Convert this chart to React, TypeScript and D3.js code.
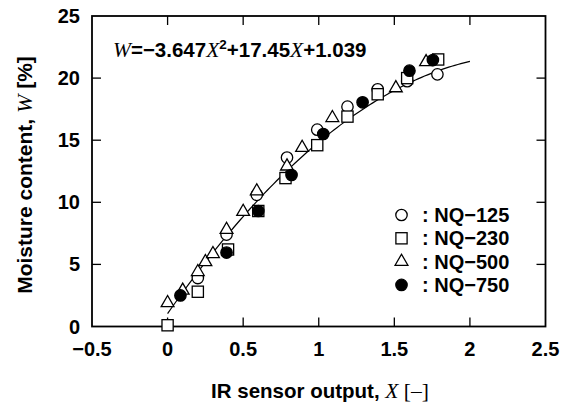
import React from "react";
import * as d3 from "d3";

const W = 561;
const H = 405;

// Data: NQ series [X, W]
const nq125X = [0.2, 0.39, 0.59, 0.79, 0.99, 1.19, 1.39, 1.585, 1.785];
const nq125W = [3.9, 7.4, 10.6, 13.6, 15.85, 17.7, 19.1, 19.75, 20.3];

const nq230X = [0.0, 0.2, 0.4, 0.6, 0.78, 0.99, 1.19, 1.39, 1.585, 1.79];
const nq230W = [0.1, 2.8, 6.2, 9.3, 11.95, 14.6, 16.9, 18.7, 20.0, 21.5];

const nq500X = [0.0, 0.1, 0.2, 0.25, 0.3, 0.39, 0.5, 0.59, 0.79, 0.89, 1.09, 1.51, 1.71];
const nq500W = [1.9, 2.9, 4.4, 5.2, 5.85, 7.8, 9.25, 10.9, 12.9, 14.4, 16.8, 19.2, 21.3];

const nq750X = [0.085, 0.39, 0.6, 0.82, 1.03, 1.29, 1.6, 1.755];
const nq750W = [2.5, 5.95, 9.3, 12.2, 15.5, 18.05, 20.6, 21.45];

// Fit coefficients W = a X^2 + b X + c
const fitCoef = [-3.647, 17.45, 1.039];
const fitRange = [0, 2];

const xTicks = [-0.5, 0, 0.5, 1, 1.5, 2, 2.5];
const yTicks = [0, 5, 10, 15, 20, 25];
const legendLabels = [": NQ\u2212125", ": NQ\u2212230", ": NQ\u2212500", ": NQ\u2212750"];

const SANS = "'Liberation Sans', Arial, Helvetica, sans-serif";
const SERIF = "'Liberation Serif', 'Times New Roman', serif";
const FS = 20;

const left = 92, right = 545.5, top = 16, bottom = 326.5;
const x = d3.scaleLinear().domain([-0.5, 2.5]).range([left, right]);
const y = d3.scaleLinear().domain([0, 25]).range([bottom, top]);

function fmt(v: number) {
  const s = String(v);
  return s.startsWith("-") ? "\u2212" + s.slice(1) : s;
}

type Kind = "circle" | "square" | "triangle" | "dot";

function Marker({ kind, cx, cy }: { kind: Kind; cx: number; cy: number }) {
  const sw = 1.3;
  if (kind === "circle")
    return <circle cx={cx} cy={cy} r={5.7} fill="white" stroke="black" strokeWidth={sw} />;
  if (kind === "dot")
    return <circle cx={cx} cy={cy} r={5.7} fill="black" stroke="black" strokeWidth={sw} />;
  if (kind === "square")
    return <rect x={cx - 5.6} y={cy - 5.6} width={11.2} height={11.2} fill="white" stroke="black" strokeWidth={sw} />;
  const s = 12.8;
  const h = (s * Math.sqrt(3)) / 2;
  const pts = [
    [cx, cy - (2 * h) / 3],
    [cx - s / 2, cy + h / 3],
    [cx + s / 2, cy + h / 3],
  ];
  return <polygon points={pts.map((p) => p.join(",")).join(" ")} fill="white" stroke="black" strokeWidth={sw} />;
}

const italic = { fontFamily: SERIF, fontStyle: "italic" as const, fontWeight: "normal" as const };

export default function App() {
  const series: { kind: Kind; xs: number[]; ws: number[] }[] = [
    { kind: "circle", xs: nq125X, ws: nq125W },
    { kind: "square", xs: nq230X, ws: nq230W },
    { kind: "triangle", xs: nq500X, ws: nq500W },
    { kind: "dot", xs: nq750X, ws: nq750W },
  ];
  const legendKinds: Kind[] = ["circle", "square", "triangle", "dot"];

  const fitXs = d3.range(fitRange[0], fitRange[1] + 1e-9, 0.02);
  const line = d3
    .line<number>()
    .x((d) => x(d))
    .y((d) => y(fitCoef[0] * d * d + fitCoef[1] * d + fitCoef[2]));

  const tickLen = 9;
  const innerX = xTicks.filter((t) => t > -0.5 && t < 2.5);
  const innerY = yTicks.filter((t) => t > 0 && t < 25);

  return (
    <svg width={W} height={H} style={{ position: "absolute", left: 0, top: 0, background: "white" }}>
      <rect x={0} y={0} width={W} height={H} fill="white" />
      {innerX.map((t) => (
        <g key={"xt" + t}>
          <line x1={x(t)} x2={x(t)} y1={bottom} y2={bottom - tickLen} stroke="black" strokeWidth={1.3} />
          <line x1={x(t)} x2={x(t)} y1={top} y2={top + tickLen} stroke="black" strokeWidth={1.3} />
        </g>
      ))}
      {innerY.map((t) => (
        <g key={"yt" + t}>
          <line x1={left} x2={left + tickLen} y1={y(t)} y2={y(t)} stroke="black" strokeWidth={1.3} />
          <line x1={right} x2={right - tickLen} y1={y(t)} y2={y(t)} stroke="black" strokeWidth={1.3} />
        </g>
      ))}
      <rect x={left} y={top} width={right - left} height={bottom - top} fill="none" stroke="black" strokeWidth={1.8} />

      {xTicks.map((t) => (
        <text key={"xl" + t} x={x(t)} y={356} textAnchor="middle" fontFamily={SANS} fontWeight="bold" fontSize={FS}>
          {fmt(t)}
        </text>
      ))}
      {yTicks.map((t) => (
        <text key={"yl" + t} x={80} y={y(t) + 7} textAnchor="end" fontFamily={SANS} fontWeight="bold" fontSize={FS}>
          {fmt(t)}
        </text>
      ))}

      <path d={line(fitXs) || ""} fill="none" stroke="black" strokeWidth={1.2} />

      {series.map((s) =>
        s.xs.map((xv, i) => <Marker key={s.kind + i} kind={s.kind} cx={x(xv)} cy={y(s.ws[i])} />)
      )}

      <text x={113} y={57} fontFamily={SANS} fontWeight="bold" fontSize={20.5}>
        <tspan {...italic} fontSize={21.5}>W</tspan>
        <tspan>{"=\u22123.647"}</tspan>
        <tspan {...italic} fontSize={21.5}>X</tspan>
        <tspan fontSize={13.5} dy={-8}>2</tspan>
        <tspan dy={8}>+17.45</tspan>
        <tspan {...italic} fontSize={21.5}>X</tspan>
        <tspan>+1.039</tspan>
      </text>

      {legendLabels.map((lab, i) => {
        const cy = 215 + i * 23.3;
        return (
          <g key={"lg" + i}>
            <Marker kind={legendKinds[i]} cx={401.5} cy={cy} />
            <text x={422} y={cy + 7} fontFamily={SANS} fontWeight="bold" fontSize={FS}>
              {lab}
            </text>
          </g>
        );
      })}

      <text x={320} y={398} textAnchor="middle" fontFamily={SANS} fontWeight="bold" fontSize={20.5}>
        {"IR sensor output, "}
        <tspan {...italic} fontSize={21.5}>X</tspan>
        <tspan fontFamily={SERIF} fontWeight="normal" fontSize={21.5}>{" [\u2013]"}</tspan>
      </text>
      <text
        transform={`translate(32, 175) rotate(-90)`}
        textAnchor="middle"
        fontFamily={SANS}
        fontWeight="bold"
        fontSize={21}
      >
        {"Moisture content, "}
        <tspan {...italic} fontSize={22}>W</tspan>
        <tspan>{" [%]"}</tspan>
      </text>
    </svg>
  );
}
